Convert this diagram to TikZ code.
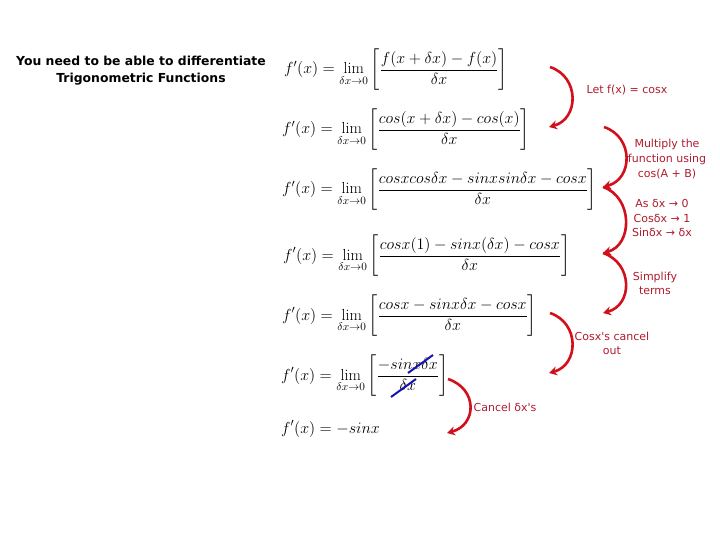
\documentclass[tikz,border=0pt]{standalone}
\usepackage{fix-cm}
\usepackage{amsmath}
\usepackage{fontspec}
\newfontfamily\handfont{DejaVu Sans}
\usetikzlibrary{arrows.meta}
\definecolor{arcred}{HTML}{D2101C}
\definecolor{notered}{HTML}{B01C2E}
\definecolor{strikeblue}{HTML}{1414B4}
\newcommand{\lhs}{f'(x)=\lim_{\delta x\to 0}}
\begin{document}
\begin{tikzpicture}[
    x=1pt, y=-1pt,
    eqn/.style={anchor=west, inner sep=0pt, font=\fontsize{16}{19}\selectfont},
    note/.style={align=center, inner sep=0pt, text=notered, font=\handfont\fontsize{11}{14.7}\selectfont},
    arc/.style={draw=arcred, line width=2.6pt, -{Stealth[length=8pt,width=9pt]}},
    strike/.style={draw=strikeblue, line width=2pt}
  ]
  \useasboundingbox (0,0) rectangle (720,540);
  \fill[white] (0,0) rectangle (720,540);
  % heading
  \node (title) [align=center, inner sep=0pt, font=\handfont\bfseries\fontsize{12.4}{17}\selectfont] at (141,71)
    {You need to be able to differentiate\\Trigonometric Functions};
  % the steps
  \node (eqa) [eqn] at (284,70) {$\displaystyle\lhs\left[\frac{f(x+\delta x)-f(x)}{\delta x}\right]$};
  \node (eqb) [eqn] at (282,130) {$\displaystyle\lhs\left[\frac{cos(x+\delta x)-cos(x)}{\delta x}\right]$};
  \node (eqc) [eqn] at (282,190) {$\displaystyle\lhs\left[\frac{cosxcos\delta x-sinxsin\delta x-cosx}{\delta x}\right]$};
  \node (eqd) [eqn] at (283,256) {$\displaystyle\lhs\left[\frac{cosx(1)-sinx(\delta x)-cosx}{\delta x}\right]$};
  \node (eqe) [eqn] at (282,316) {$\displaystyle\lhs\left[\frac{cosx-sinx\delta x-cosx}{\delta x}\right]$};
  \node (eqf) [eqn] at (281,376) {$\displaystyle\lhs\left[\frac{-sinx\delta x}{\delta x}\right]$};
  \node (eqg) [eqn] at (281,429) {$\displaystyle f'(x)=-sinx$};
  % notes
  \node (nlet) [note] at (627,90) {Let f(x) = cosx};
  \node (nmul) [note] at (667,159) {Multiply the\\function using\\cos(A + B)};
  \node (nlim) [note] at (662,218) {As δx → 0\\Cosδx → 1\\Sinδx → δx};
  \node (nsim) [note] at (655,283.5) {Simplify\\terms};
  \node (ncan) [note] at (612,343.5) {Cosx's cancel\\out};
  \node (ndel) [note] at (505,407) {Cancel δx's};
  % arc ends
  \coordinate (pa) at (550,67);
  \coordinate (pb) at (549,127);
  \coordinate (pc) at (604,127);
  \coordinate (pd) at (603,187);
  \coordinate (pe) at (603,253);
  \coordinate (pf) at (603,313);
  \coordinate (pg) at (549,373);
  \coordinate (ph) at (448,379);
  \coordinate (pi) at (447,433);
  \draw[arc] (pa) .. controls +(30,10) and +(30,-8) .. (pb);
  \draw[arc] (pc) .. controls +(30,10) and +(30,-8) .. (pd);
  \draw[arc] (pd) .. controls +(30,10) and +(30,-8) .. (pe);
  \draw[arc] (pe) .. controls +(30,10) and +(30,-8) .. (pf);
  \draw[arc] (pf -| pa) .. controls +(30,10) and +(30,-8) .. (pg);
  \draw[arc] (ph) .. controls +(30,10) and +(30,-8) .. (pi);
  % cancelled terms
  \coordinate (sa) at (408,373);
  \coordinate (sb) at (433,355);
  \coordinate (sc) at (391,397);
  \coordinate (sd) at (416,379);
  \draw[strike] (sa) -- (sb);
  \draw[strike] (sc) -- (sd);
\end{tikzpicture}
\end{document}
